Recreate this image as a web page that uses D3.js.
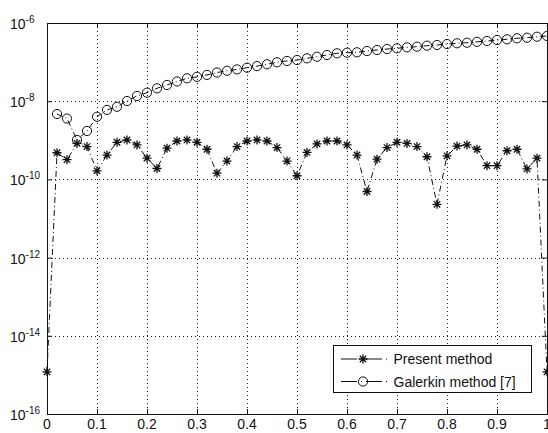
<!DOCTYPE html>
<html>
<head>
<meta charset="utf-8">
<script src="https://cdn.jsdelivr.net/npm/d3@7"></script>
<style>
  html, body { margin: 0; padding: 0; background: #fff; overflow: hidden; }
  svg { display: block; }
  text { font-family: "Liberation Sans", Arial, Helvetica, sans-serif; fill: #111; }
</style>
</head>
<body>
<svg id="chart" width="548" height="433"></svg>
<script>
// ---- data ----
const xPresent = [0,0.02,0.04,0.06,0.08,0.10,0.12,0.14,0.16,0.18,0.20,0.22,0.24,0.26,0.28,0.30,0.32,0.34,0.36,0.38,0.40,0.42,0.44,0.46,0.48,0.50,0.52,0.54,0.56,0.58,0.60,0.62,0.64,0.66,0.68,0.70,0.72,0.74,0.76,0.78,0.80,0.82,0.84,0.86,0.88,0.90,0.92,0.94,0.96,0.98,1.00];
const yPresent = [1.2e-15,4.8e-10,3.2e-10,8.3e-10,6.9e-10,1.66e-10,4.2e-10,8.9e-10,1.02e-9,7.6e-10,3.5e-10,1.9e-10,6.3e-10,9.6e-10,1.02e-9,8.9e-10,5.9e-10,1.44e-10,2.95e-10,6.9e-10,9.6e-10,1.02e-9,9.6e-10,6.5e-10,2.95e-10,1.24e-10,4.9e-10,8.1e-10,9.6e-10,9.6e-10,7.6e-10,4.2e-10,4.9e-11,3.3e-10,6.5e-10,8.9e-10,8.3e-10,6.9e-10,3.8e-10,2.3e-11,4.0e-10,7.1e-10,7.6e-10,5.9e-10,2.24e-10,2.24e-10,5.4e-10,5.9e-10,1.85e-10,3.5e-10,1.2e-15];
const xGalerkin = [0.02,0.04,0.06,0.08,0.10,0.12,0.14,0.16,0.18,0.20,0.22,0.24,0.26,0.28,0.30,0.32,0.34,0.36,0.38,0.40,0.42,0.44,0.46,0.48,0.50,0.52,0.54,0.56,0.58,0.60,0.62,0.64,0.66,0.68,0.70,0.72,0.74,0.76,0.78,0.80,0.82,0.84,0.86,0.88,0.90,0.92,0.94,0.96,0.98,1.00];
const yGalerkin = [4.7e-9,3.6e-9,1.02e-9,1.73e-9,4.0e-9,6.0e-9,7.2e-9,1.01e-8,1.36e-8,1.65e-8,2.14e-8,2.6e-8,3.2e-8,3.85e-8,4.2e-8,4.7e-8,5.4e-8,6.0e-8,6.5e-8,7.2e-8,7.9e-8,8.8e-8,9.9e-8,1.07e-7,1.13e-7,1.25e-7,1.37e-7,1.52e-7,1.68e-7,1.74e-7,1.78e-7,1.92e-7,2.04e-7,2.16e-7,2.25e-7,2.39e-7,2.48e-7,2.63e-7,2.74e-7,2.9e-7,3.03e-7,3.13e-7,3.3e-7,3.47e-7,3.67e-7,3.83e-7,4.06e-7,4.2e-7,4.46e-7,4.65e-7];
const xTicks = [0,0.1,0.2,0.3,0.4,0.5,0.6,0.7,0.8,0.9,1];
const xTickLabels = ["0","0.1","0.2","0.3","0.4","0.5","0.6","0.7","0.8","0.9","1"];
const yTickExponents = [-16,-14,-12,-10,-8,-6];
const seriesNames = ["Present method","Galerkin method [7]"];

// ---- layout ----
const L = 47, T = 23, W = 500, H = 391;
const svg = d3.select("#chart");
const x = d3.scaleLinear().domain([0,1]).range([L, L+W]);
const y = d3.scaleLog().domain([1e-16,1e-6]).range([T+H, T]);
const yTicks = yTickExponents.map(e => Math.pow(10,e));

// grid
const grid = svg.append("g").attr("stroke","#222").attr("stroke-width",1).attr("stroke-dasharray","1,3");
grid.selectAll(".gx").data(xTicks.slice(1,-1)).join("line")
  .attr("x1", d=>Math.round(x(d))+0.5).attr("x2", d=>Math.round(x(d))+0.5)
  .attr("y1", T).attr("y2", T+H);
grid.selectAll(".gy").data(yTicks.slice(1,-1)).join("line")
  .attr("y1", d=>Math.round(y(d))+0.5).attr("y2", d=>Math.round(y(d))+0.5)
  .attr("x1", L).attr("x2", L+W);

// axes (inward ticks, MATLAB style)
const axB = d3.axisBottom(x).tickValues(xTicks).tickSize(-5).tickFormat("");
const axT = d3.axisTop(x).tickValues(xTicks).tickSize(-5).tickFormat("");
const axL = d3.axisLeft(y).tickValues(yTicks).tickSize(-5).tickFormat("");
const axR = d3.axisRight(y).tickValues(yTicks).tickSize(-5).tickFormat("");
function styleAxis(g){ g.selectAll("path,line").attr("stroke","#111").attr("stroke-width",1); }
svg.append("g").attr("transform",`translate(0,${T+H})`).call(axB).call(styleAxis);
svg.append("g").attr("transform",`translate(0,${T})`).call(axT).call(styleAxis);
svg.append("g").attr("transform",`translate(${L},0)`).call(axL).call(styleAxis);
svg.append("g").attr("transform",`translate(${L+W},0)`).call(axR).call(styleAxis);

// x tick labels
svg.append("g").selectAll("text").data(xTicks).join("text")
  .attr("x", d=>x(d)).attr("y", T+H+15)
  .attr("text-anchor","middle").attr("font-size",14)
  .text((d,i)=>xTickLabels[i]);

// y tick labels 10^e
const yl = svg.append("g").selectAll("text").data(yTickExponents).join("text")
  .attr("x", 10).attr("y", d=>y(Math.pow(10,d))+6).attr("font-size",14);
yl.append("tspan").text("10");
yl.append("tspan").attr("dy",-6).attr("font-size",10).text(d=>String(d));

// lines
const line = d3.line().x(d=>x(d[0])).y(d=>y(d[1]));
const pres = xPresent.map((v,i)=>[v,yPresent[i]]);
const gal = xGalerkin.map((v,i)=>[v,yGalerkin[i]]);
const dash = "6,3,1,3";
svg.append("path").datum(gal).attr("d",line).attr("fill","none").attr("stroke","#111").attr("stroke-width",1).attr("stroke-dasharray",dash);
svg.append("path").datum(pres).attr("d",line).attr("fill","none").attr("stroke","#111").attr("stroke-width",1).attr("stroke-dasharray",dash);

// markers
const starPath = "M-4.5,0H4.5M0,-4.5V4.5M-3.2,-3.2L3.2,3.2M-3.2,3.2L3.2,-3.2";
svg.append("g").selectAll("path").data(pres).join("path")
  .attr("transform", d=>`translate(${x(d[0])},${y(d[1])})`)
  .attr("d", starPath).attr("stroke","#111").attr("stroke-width",1.3).attr("fill","none");
svg.append("g").selectAll("circle").data(gal).join("circle")
  .attr("cx", d=>x(d[0])).attr("cy", d=>y(d[1])).attr("r",4.6)
  .attr("fill","none").attr("stroke","#111").attr("stroke-width",1);

// legend
const lg = svg.append("g");
lg.append("rect").attr("x",333.5).attr("y",345.5).attr("width",198).attr("height",47)
  .attr("fill","#fff").attr("stroke","#111").attr("stroke-width",1);
const rowsY = [359, 381.5];
seriesNames.forEach((name,i)=>{
  const ry = rowsY[i];
  lg.append("line").attr("x1",341).attr("x2",391).attr("y1",ry).attr("y2",ry)
    .attr("stroke","#111").attr("stroke-width",1).attr("stroke-dasharray","16,4,1,4");
  if (i===0) {
    lg.append("path").attr("transform",`translate(363,${ry})`).attr("d",starPath)
      .attr("stroke","#111").attr("stroke-width",1.3).attr("fill","none");
  } else {
    lg.append("circle").attr("cx",363).attr("cy",ry).attr("r",4.6)
      .attr("fill","none").attr("stroke","#111").attr("stroke-width",1);
  }
  lg.append("text").attr("x",393.5).attr("y",ry+5).attr("font-size",14).text(name);
});
</script>
</body>
</html>
